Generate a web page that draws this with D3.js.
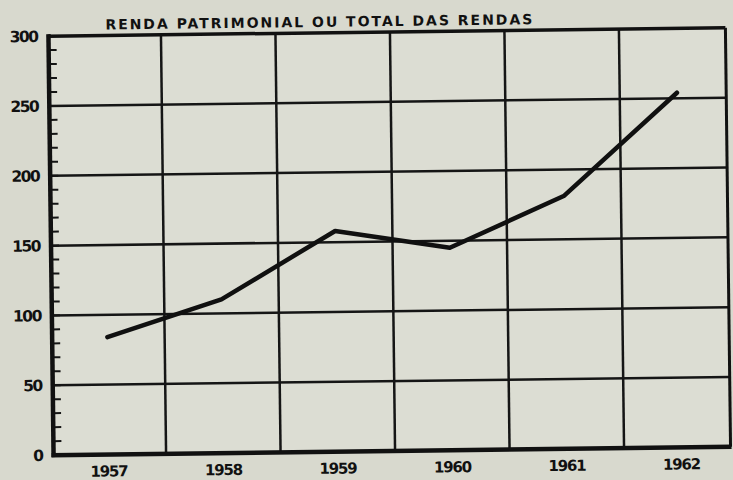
<html>
<head>
<script src="https://d3js.org/d3.v7.min.js"></script>
<style>
body { margin: 0; background: #d9dacf; }
svg { display: block; }
.ylab, .xlab { font-family: "DejaVu Sans", sans-serif; font-weight: bold; fill: #111; }
.title { font-family: "DejaVu Sans", sans-serif; font-weight: bold; fill: #111; }
</style>
</head>
<body>
<div id="plot"></div>
<script>

var years = ["1957", "1958", "1959", "1960", "1961", "1962"];
var values = [84, 110, 158, 145, 181, 254];
var yTicks = [0, 50, 100, 150, 200, 250, 300];
var minorTicks = d3.range(0, 301, 10);
var title = "RENDA PATRIMONIAL OU TOTAL DAS RENDAS";

var width = 733, height = 480;
// (window.top is read-only, so no "top" here)
var plotLeft = 51, plotRight = 728, plotTop = 32, plotBottom = 451;

var svg = d3.select("#plot").append("svg")
.attr("width", width).attr("height", height);

svg.append("rect").attr("width", width).attr("height", height).attr("fill", "#d8d9ce");

// scan is a little tilted
var g = svg.append("g").attr("transform", "rotate(-0.7, 389, 242)");

// last column is cut short by the right border
var xScale = d3.scaleBand().domain(years).range([49, 736]);
var yScale = d3.scaleLinear().domain([0, 300]).range([plotBottom, plotTop]);

g.append("rect").attr("x", plotLeft).attr("y", plotTop)
.attr("width", plotRight - plotLeft).attr("height", plotBottom - plotTop)
.attr("fill", "#dcddd3");

// horizontal grid
g.selectAll("line.hgrid").data(yTicks.slice(1, -1)).enter().append("line")
.attr("class", "hgrid")
.attr("x1", plotLeft).attr("x2", plotRight)
.attr("y1", yScale).attr("y2", yScale)
.attr("stroke", "#151515").attr("stroke-width", 2.5);

// vertical grid between years
g.selectAll("line.vgrid").data(years.slice(1)).enter().append("line")
.attr("class", "vgrid")
.attr("x1", function (d) { return xScale(d); }).attr("x2", function (d) { return xScale(d); })
.attr("y1", plotTop).attr("y2", plotBottom)
.attr("stroke", "#151515").attr("stroke-width", 2.5);

// minor ticks on the y axis
g.selectAll("line.minor").data(minorTicks).enter().append("line")
.attr("class", "minor")
.attr("x1", plotLeft).attr("x2", plotLeft + 8)
.attr("y1", yScale).attr("y2", yScale)
.attr("stroke", "#151515").attr("stroke-width", 2);

// frame
g.append("line").attr("x1", plotLeft).attr("x2", plotRight).attr("y1", plotTop).attr("y2", plotTop)
.attr("stroke", "#111").attr("stroke-width", 3.5);
g.append("line").attr("x1", plotRight).attr("x2", plotRight).attr("y1", plotTop).attr("y2", plotBottom)
.attr("stroke", "#111").attr("stroke-width", 3);
g.append("line").attr("x1", plotLeft).attr("x2", plotLeft).attr("y1", plotTop - 2).attr("y2", plotBottom + 2)
.attr("stroke", "#111").attr("stroke-width", 4.5);
g.append("line").attr("x1", plotLeft - 2).attr("x2", plotRight + 1).attr("y1", plotBottom).attr("y2", plotBottom)
.attr("stroke", "#111").attr("stroke-width", 4.5);

// y labels
g.selectAll("text.ylab").data(yTicks).enter().append("text")
.attr("class", "ylab")
.attr("x", plotLeft - 11).attr("y", function (d) { return yScale(d); })
.attr("dy", "0.36em").attr("text-anchor", "end")
.attr("font-size", 15.5).attr("letter-spacing", -1.5)
.text(function (d) { return d; });

// x labels
g.selectAll("text.xlab").data(years).enter().append("text")
.attr("class", "xlab")
.attr("x", function (d) { return xScale(d) + xScale.bandwidth() / 2; })
.attr("y", plotBottom + 22)
.attr("text-anchor", "middle")
.attr("font-size", 15).attr("letter-spacing", -1.2)
.text(function (d) { return d; });

// title
g.append("text").attr("class", "title")
.attr("x", 108).attr("y", 26)
.attr("font-size", 14)
.attr("textLength", 427).attr("lengthAdjust", "spacing")
.text(title);

// the series
var line = d3.line()
.x(function (d, i) { return xScale(years[i]) + xScale.bandwidth() / 2; })
.y(function (d) { return yScale(d); });

g.append("path").datum(values)
.attr("d", line)
.attr("fill", "none")
.attr("stroke", "#101010")
.attr("stroke-width", 4.5)
.attr("stroke-linejoin", "round")
.attr("stroke-linecap", "round");

</script>
</body>
</html>
